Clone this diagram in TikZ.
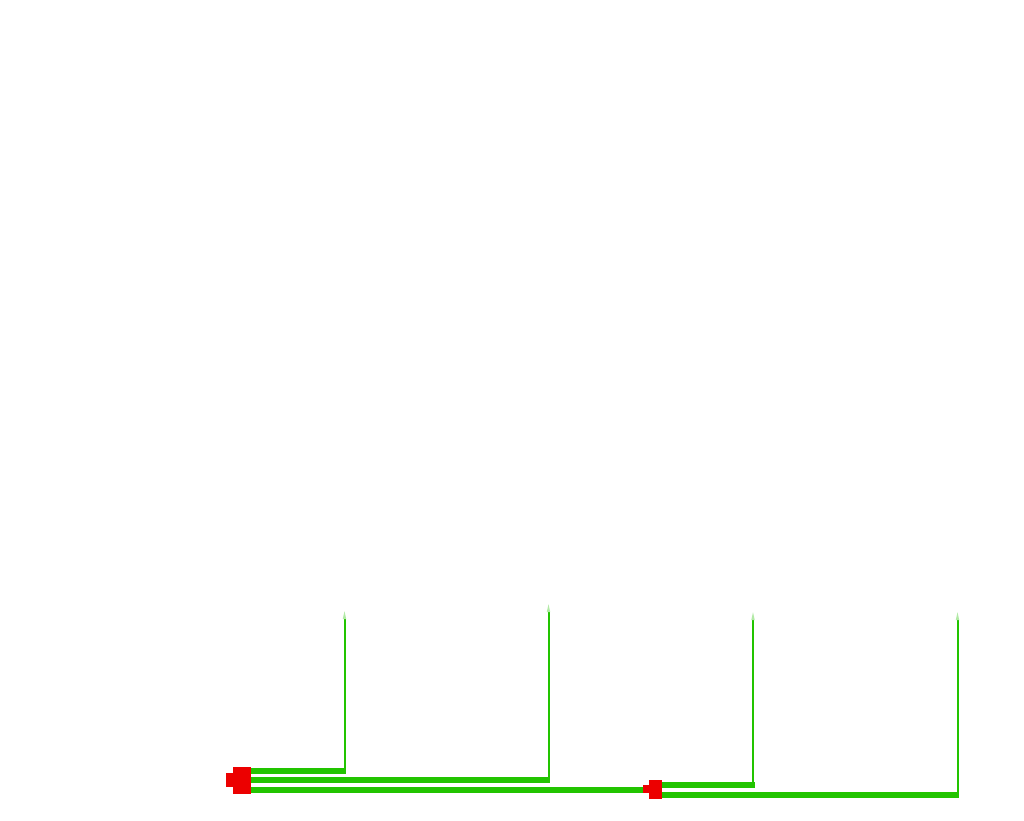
\documentclass[tikz,border=0pt]{standalone}
\usetikzlibrary{arrows.meta}
\definecolor{gr}{RGB}{34,196,0}
\definecolor{rd}{RGB}{236,0,0}
\begin{document}
\begin{tikzpicture}[x=1pt,y=-1pt,
  blk/.style={fill=rd,draw=none,inner sep=0pt,outer sep=0pt},
  hline/.style={draw=gr,line width=6pt},
  vline/.style={draw=gr,line width=2pt,-{Triangle[length=14pt,width=2.6pt,color=gr!35]}}]
\useasboundingbox[fill=white] (0,0) rectangle (1024,820);
% red blocks
\node[blk,minimum width=18pt,minimum height=27pt] (n1) at (242,780.5) {};
\node[blk,minimum width=7pt,minimum height=14pt] (p1) at (229.5,780) {};
\node[blk,minimum width=13pt,minimum height=19pt] (n2) at (655.5,789.5) {};
\node[blk,minimum width=6pt,minimum height=8pt] (p2) at (646,789) {};
% corners and free ends
\coordinate (c1) at (344.5,770.5); \coordinate (t1) at (344.5,605);
\coordinate (c2) at (548.5,780);   \coordinate (t2) at (548.5,598);
\coordinate (c4) at (753,784.5);   \coordinate (t4) at (753,606);
\coordinate (c5) at (957.5,795);   \coordinate (t5) at (957.5,606);
% connectors from block 1
\draw[hline] (n1.east |- c1) -- ([xshift=1.5pt]c1);
\draw[vline] ([yshift=2.5pt]c1) -- (t1);
\draw[hline] (n1.east |- c2) -- ([xshift=1.5pt]c2);
\draw[vline] ([yshift=2.5pt]c2) -- (t2);
\draw[hline] (n1.east |- 0,790) -- (p2.west |- 0,790);
% connectors from block 2
\draw[hline] (n2.east |- c4) -- ([xshift=1.5pt]c4);
\draw[vline] ([yshift=2.5pt]c4) -- (t4);
\draw[hline] (n2.east |- c5) -- ([xshift=1.5pt]c5);
\draw[vline] ([yshift=2.5pt]c5) -- (t5);
\end{tikzpicture}
\end{document}
